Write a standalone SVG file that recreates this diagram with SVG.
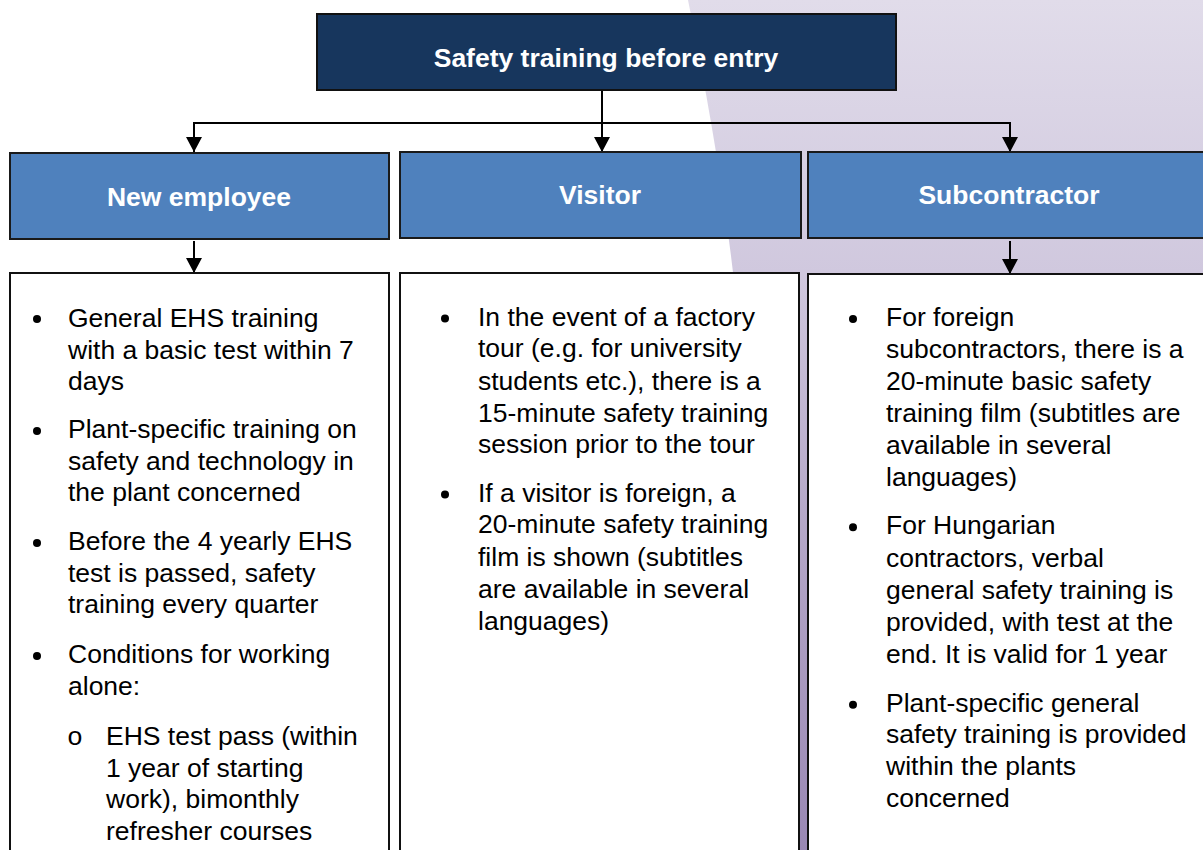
<svg xmlns="http://www.w3.org/2000/svg" width="1203" height="850" viewBox="0 0 1203 850">
  <defs>
    <linearGradient id="bgGrad" x1="0" y1="0" x2="0" y2="1">
      <stop offset="0" stop-color="#e1dcea"/>
      <stop offset="0.32" stop-color="#d0c8de"/>
      <stop offset="0.6" stop-color="#b6a9c9"/>
      <stop offset="1" stop-color="#9a88b4"/>
    </linearGradient>
    <marker id="arrow" markerUnits="userSpaceOnUse" markerWidth="15" markerHeight="16" viewBox="0 0 15 16" refX="15" refY="8" orient="auto-start-reverse">
      <path d="M0,0 L15,8 L0,16 Z" fill="#000"/>
    </marker>
    <style>
      .head { font-family: "Liberation Sans", Arial, sans-serif; font-weight: bold; font-size: 26.5px; fill: #ffffff; text-anchor: middle; }
      .body { font-family: "Liberation Sans", Arial, sans-serif; font-size: 26.5px; fill: #000000; }
      .mono { font-family: "Liberation Mono", "Courier New", monospace; font-size: 26.5px; fill: #000000; }
      .top { fill: #17365d; stroke: #111; stroke-width: 2; }
      .cat { fill: #4f81bd; stroke: #1a1a1a; stroke-width: 2; }
      .content { fill: #ffffff; stroke: #111; stroke-width: 2; }
      .conn { fill: none; stroke: #000; stroke-width: 2; }
      .bullet { fill: #000; }
    </style>
  </defs>

  <rect x="0" y="0" width="1203" height="850" fill="#ffffff"/>
  <path d="M688,0 C708,100 724,190 735,290 L765,850 L1203,850 L1203,0 Z" fill="url(#bgGrad)"/>

  <g id="connectors">
    <line class="conn" x1="602" y1="91" x2="602" y2="152" marker-end="url(#arrow)"/>
    <polyline class="conn" points="194,152 194,123 1010,123 1010,152" marker-start="url(#arrow)" marker-end="url(#arrow)"/>
    <line class="conn" x1="194" y1="241" x2="194" y2="273" marker-end="url(#arrow)"/>
    <line class="conn" x1="1010" y1="241" x2="1010" y2="274" marker-end="url(#arrow)"/>
  </g>

  <g id="top-node">
    <rect class="top" x="317" y="14" width="579" height="76"/>
    <text class="head" x="606" y="67">Safety training before entry</text>
  </g>

  <g id="new-employee">
    <rect class="cat" x="10" y="153" width="379" height="86"/>
    <text class="head" x="199" y="206">New employee</text>
  </g>

  <g id="visitor">
    <rect class="cat" x="400" y="152" width="401" height="86"/>
    <text class="head" x="600" y="203.5">Visitor</text>
  </g>

  <g id="subcontractor">
    <rect class="cat" x="808" y="152" width="403" height="86"/>
    <text class="head" x="1009" y="203.5">Subcontractor</text>
  </g>

  <g id="new-employee-details">
    <rect class="content" x="10" y="273" width="379" height="590"/>
    <circle class="bullet" cx="37" cy="319" r="4"/>
    <circle class="bullet" cx="37" cy="431" r="4"/>
    <circle class="bullet" cx="37" cy="543" r="4"/>
    <circle class="bullet" cx="37" cy="656" r="4"/>
    <text class="body">
      <tspan x="68" y="326.5">General EHS training</tspan>
      <tspan x="68" y="358.5">with a basic test within 7</tspan>
      <tspan x="68" y="390.3">days</tspan>
      <tspan x="68" y="438">Plant-specific training on</tspan>
      <tspan x="68" y="469.7">safety and technology in</tspan>
      <tspan x="68" y="501.3">the plant concerned</tspan>
      <tspan x="68" y="550">Before the 4 yearly EHS</tspan>
      <tspan x="68" y="581.7">test is passed, safety</tspan>
      <tspan x="68" y="613.3">training every quarter</tspan>
      <tspan x="68" y="663">Conditions for working</tspan>
      <tspan x="68" y="694.7">alone:</tspan>
    </text>
    <text class="mono" x="67" y="745">o</text>
    <text class="body">
      <tspan x="106" y="745">EHS test pass (within</tspan>
      <tspan x="106" y="776.7">1 year of starting</tspan>
      <tspan x="106" y="808.3">work), bimonthly</tspan>
      <tspan x="106" y="840">refresher courses</tspan>
    </text>
  </g>

  <g id="visitor-details">
    <rect class="content" x="400" y="273" width="399" height="590"/>
    <circle class="bullet" cx="445" cy="318.5" r="4"/>
    <circle class="bullet" cx="445" cy="494.5" r="4"/>
    <text class="body">
      <tspan x="478" y="325.5">In the event of a factory</tspan>
      <tspan x="478" y="357.3">tour (e.g. for university</tspan>
      <tspan x="478" y="390">students etc.), there is a</tspan>
      <tspan x="478" y="421.7">15-minute safety training</tspan>
      <tspan x="478" y="453.3">session prior to the tour</tspan>
      <tspan x="478" y="501.7">If a visitor is foreign, a</tspan>
      <tspan x="478" y="533.3">20-minute safety training</tspan>
      <tspan x="478" y="566">film is shown (subtitles</tspan>
      <tspan x="478" y="598.3">are available in several</tspan>
      <tspan x="478" y="630">languages)</tspan>
    </text>
  </g>

  <g id="subcontractor-details">
    <rect class="content" x="808" y="274" width="403" height="590"/>
    <circle class="bullet" cx="853" cy="319" r="4"/>
    <circle class="bullet" cx="853" cy="527.3" r="4"/>
    <circle class="bullet" cx="853" cy="704.7" r="4"/>
    <text class="body">
      <tspan x="886" y="326">For foreign</tspan>
      <tspan x="886" y="358.3">subcontractors, there is a</tspan>
      <tspan x="886" y="390">20-minute basic safety</tspan>
      <tspan x="886" y="421.7">training film (subtitles are</tspan>
      <tspan x="886" y="454">available in several</tspan>
      <tspan x="886" y="485.5">languages)</tspan>
      <tspan x="886" y="534.3">For Hungarian</tspan>
      <tspan x="886" y="566.7">contractors, verbal</tspan>
      <tspan x="886" y="599">general safety training is</tspan>
      <tspan x="886" y="631">provided, with test at the</tspan>
      <tspan x="886" y="663.3">end. It is valid for 1 year</tspan>
      <tspan x="886" y="711.7">Plant-specific general</tspan>
      <tspan x="886" y="743.3">safety training is provided</tspan>
      <tspan x="886" y="775">within the plants</tspan>
      <tspan x="886" y="806.5">concerned</tspan>
    </text>
  </g>
</svg>
